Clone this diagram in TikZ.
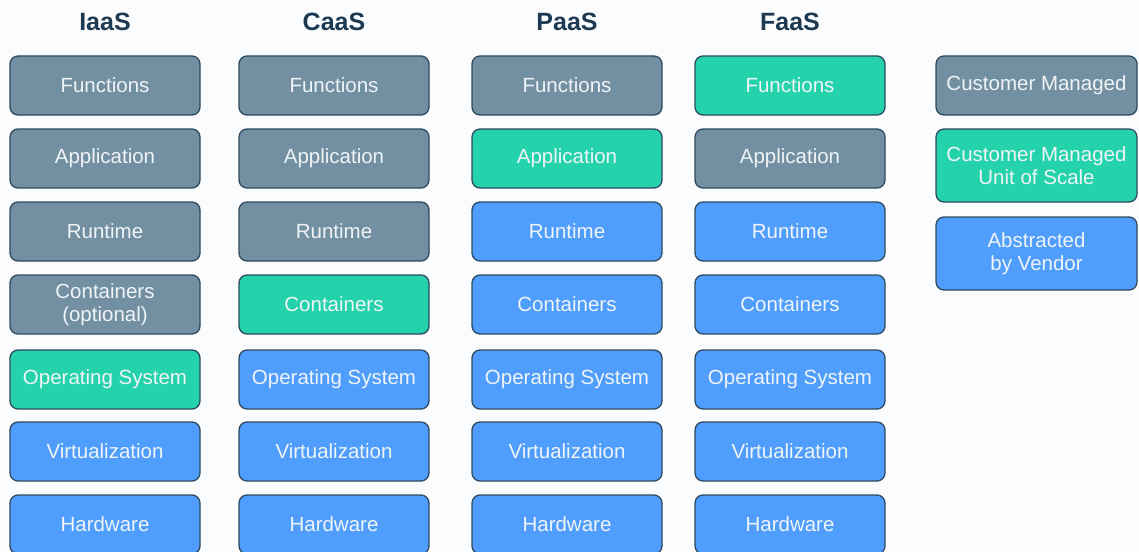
\documentclass[tikz,border=0pt]{standalone}
\usepackage{fontspec}
\setmainfont{Liberation Sans}
\definecolor{mgray}{HTML}{7290A1}
\definecolor{mgreen}{HTML}{24D3AB}
\definecolor{mblue}{HTML}{4F9EFD}
\definecolor{edge}{HTML}{2E4A60}
\definecolor{head}{HTML}{1E3A52}
\definecolor{ink}{HTML}{F0F4F7}
\definecolor{bg}{HTML}{FBFCFD}
\tikzset{
  layer/.style={draw=edge, line width=1.3pt, rounded corners=8pt,
    minimum width=190pt, minimum height=59pt, inner sep=0pt,
    align=center, text=ink, font=\fontsize{20.5}{23}\selectfont},
  cust/.style={layer, fill=mgray},
  unitbox/.style={layer, fill=mgreen},
  vend/.style={layer, fill=mblue},
  coltitle/.style={text=head, font=\fontsize{25}{28}\selectfont\bfseries},
}
\begin{document}
\begin{tikzpicture}[x=1pt,y=-1pt]
\fill[bg] (0,0) rectangle (1139,551);
\useasboundingbox (0,0) rectangle (1139,551);
\begin{scope}
\clip (0,0) rectangle (1139,551);
% column titles
\node[coltitle] (tI) at (105,22) {IaaS};
\node[coltitle] (tC) at (334,22) {CaaS};
\node[coltitle] (tP) at (567,22) {PaaS};
\node[coltitle] (tF) at (790,22) {FaaS};
% IaaS stack
\node[cust]    (i1) at (105,85.5)  {Functions};
\node[cust]    (i2) at (105,158.5) {Application};
\node[cust]    (i3) at (105,231.5) {Runtime};
\node[cust]    (i4) at (105,304.5) {Containers\\(optional)};
\node[unitbox] (i5) at (105,379.5) {Operating System};
\node[vend]    (i6) at (105,451.5) {Virtualization};
\node[vend]    (i7) at (105,524.5) {Hardware};
% CaaS stack
\node[cust]    (c1) at (334,85.5)  {Functions};
\node[cust]    (c2) at (334,158.5) {Application};
\node[cust]    (c3) at (334,231.5) {Runtime};
\node[unitbox] (c4) at (334,304.5) {Containers};
\node[vend]    (c5) at (334,379.5) {Operating System};
\node[vend]    (c6) at (334,451.5) {Virtualization};
\node[vend]    (c7) at (334,524.5) {Hardware};
% PaaS stack
\node[cust]    (p1) at (567,85.5)  {Functions};
\node[unitbox] (p2) at (567,158.5) {Application};
\node[vend]    (p3) at (567,231.5) {Runtime};
\node[vend]    (p4) at (567,304.5) {Containers};
\node[vend]    (p5) at (567,379.5) {Operating System};
\node[vend]    (p6) at (567,451.5) {Virtualization};
\node[vend]    (p7) at (567,524.5) {Hardware};
% FaaS stack
\node[unitbox] (f1) at (790,85.5)  {Functions};
\node[cust]    (f2) at (790,158.5) {Application};
\node[vend]    (f3) at (790,231.5) {Runtime};
\node[vend]    (f4) at (790,304.5) {Containers};
\node[vend]    (f5) at (790,379.5) {Operating System};
\node[vend]    (f6) at (790,451.5) {Virtualization};
\node[vend]    (f7) at (790,524.5) {Hardware};
% legend
\node[cust,    minimum width=201pt] (l1) at (1036.5,85.5) {Customer Managed};
\node[unitbox, minimum width=201pt, minimum height=73pt] (l2) at (1036.5,165.5) {Customer Managed\\Unit of Scale};
\node[vend,    minimum width=201pt, minimum height=73pt] (l3) at (1036.5,253.5) {Abstracted\\by Vendor};
\end{scope}
\end{tikzpicture}
\end{document}
